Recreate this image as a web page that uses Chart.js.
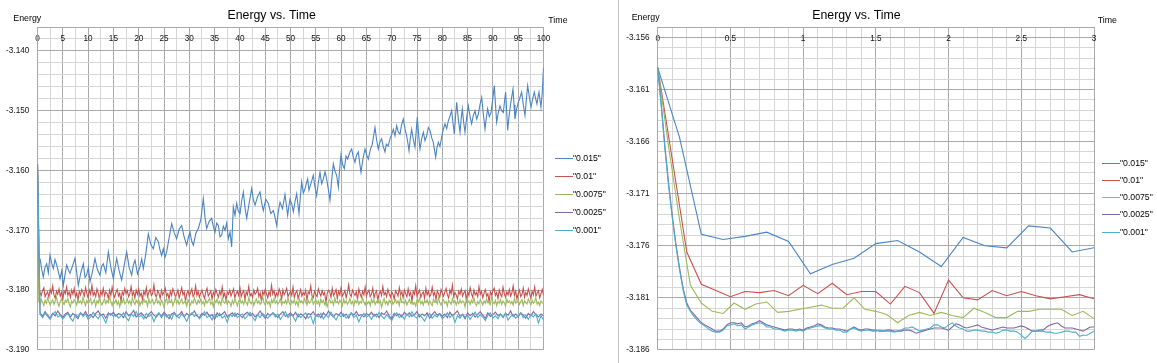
<!DOCTYPE html>
<html><head><meta charset="utf-8">
<script src="https://cdn.jsdelivr.net/npm/chart.js@4/dist/chart.umd.min.js"></script>
<style>
html,body{margin:0;padding:0;background:#fff;}
#wrap{position:relative;width:1157px;height:363px;overflow:hidden;font-family:"Liberation Sans",Arial,sans-serif;}
#boxL{position:absolute;left:0;top:0;width:617px;height:363px;}
#boxR{position:absolute;left:619px;top:0;width:538px;height:363px;}
#sep{position:absolute;left:618px;top:0;width:1px;height:363px;background:#c4c4c4;}
.lgi{position:absolute;height:12px;line-height:12px;font-size:8.7px;color:#000;white-space:nowrap;}
.lgi span{position:absolute;left:0;top:6px;width:18px;height:1px;}
.lgi b{position:absolute;left:18px;top:0;font-weight:normal;}
</style></head><body>
<div id="wrap">
<div id="boxL"><canvas id="cL" width="617" height="363"></canvas></div>
<div id="sep"></div>
<div id="boxR"><canvas id="cR" width="538" height="363"></canvas></div>
</div>
<script>
// ---------- series labels & colours ----------
const seriesLabels = ['"0.015"', '"0.01"', '"0.0075"', '"0.0025"', '"0.001"'];
const seriesColors = ['#4A84C4', '#C9504D', '#9BBB59', '#8466A8', '#4BAFCB'];

// ---------- left chart (time 0..100) ----------
const leftYMajor = [-3.190, -3.180, -3.170, -3.160, -3.150, -3.140];
const leftXMajor = [0,5,10,15,20,25,30,35,40,45,50,55,60,65,70,75,80,85,90,95,100];
// [time, energy] for "0.015"
const leftBlue = [[0,-3.1589],[0.15,-3.1656],[0.3,-3.1749],[0.49,-3.1747],[0.82,-3.1765],[1.15,-3.1778],[1.48,-3.1762],[1.81,-3.1756],[2.14,-3.1771],[2.47,-3.1742],[2.8,-3.1755],[3.13,-3.1764],[3.46,-3.1749],[3.79,-3.1758],[4.12,-3.1769],[4.45,-3.1781],[4.78,-3.1768],[5.11,-3.1792],[5.44,-3.1774],[5.76,-3.1758],[6.09,-3.1766],[6.42,-3.1772],[6.91,-3.1760],[7.41,-3.1747],[7.74,-3.1770],[8.07,-3.1792],[8.56,-3.1771],[9.06,-3.1756],[9.39,-3.1779],[9.72,-3.1775],[10.05,-3.1762],[10.38,-3.1786],[10.87,-3.1769],[11.36,-3.1747],[11.85,-3.1766],[12.35,-3.1775],[12.68,-3.1760],[13.01,-3.1756],[13.5,-3.1771],[14.0,-3.1736],[14.5,-3.1762],[14.99,-3.1781],[15.32,-3.1763],[15.65,-3.1747],[16.14,-3.1768],[16.63,-3.1783],[17.12,-3.1759],[17.62,-3.1736],[18.11,-3.1762],[18.61,-3.1775],[18.94,-3.1758],[19.27,-3.1750],[19.76,-3.1773],[20.26,-3.1761],[20.59,-3.1748],[20.92,-3.1764],[21.41,-3.1739],[21.9,-3.1706],[22.4,-3.1724],[22.89,-3.1731],[23.38,-3.1712],[23.88,-3.1719],[24.21,-3.1733],[24.54,-3.1742],[24.87,-3.1731],[25.2,-3.1745],[25.53,-3.1736],[26.02,-3.1712],[26.52,-3.1689],[27.01,-3.1704],[27.5,-3.1714],[28.0,-3.1698],[28.49,-3.1692],[28.98,-3.1711],[29.48,-3.1725],[29.81,-3.1712],[30.14,-3.1703],[30.47,-3.1718],[30.8,-3.1725],[31.3,-3.1705],[31.79,-3.1697],[32.28,-3.1682],[32.77,-3.1647],[33.1,-3.1678],[33.43,-3.1697],[33.93,-3.1685],[34.42,-3.1680],[34.75,-3.1694],[35.08,-3.1703],[35.41,-3.1688],[35.74,-3.1692],[36.07,-3.1711],[36.4,-3.1708],[36.73,-3.1693],[37.06,-3.1700],[37.39,-3.1688],[37.72,-3.1714],[38.05,-3.1703],[38.37,-3.1728],[38.7,-3.1661],[39.03,-3.1675],[39.36,-3.1655],[39.69,-3.1668],[40.02,-3.1672],[40.35,-3.1651],[40.68,-3.1636],[41.01,-3.1662],[41.34,-3.1680],[41.84,-3.1654],[42.33,-3.1630],[42.66,-3.1649],[42.99,-3.1658],[43.48,-3.1644],[43.97,-3.1636],[44.3,-3.1654],[44.63,-3.1667],[45.12,-3.1648],[45.62,-3.1655],[46.11,-3.1672],[46.61,-3.1667],[46.94,-3.1678],[47.27,-3.1692],[47.6,-3.1668],[47.93,-3.1653],[48.42,-3.1664],[48.91,-3.1640],[49.17,-3.1657],[49.44,-3.1675],[49.67,-3.1660],[49.9,-3.1648],[50.23,-3.1655],[50.56,-3.1669],[50.89,-3.1652],[51.22,-3.1639],[51.45,-3.1656],[51.68,-3.1672],[51.94,-3.1645],[52.2,-3.1619],[52.53,-3.1638],[52.86,-3.1631],[53.12,-3.1622],[53.39,-3.1614],[53.65,-3.1633],[53.92,-3.1625],[54.21,-3.1617],[54.51,-3.1608],[54.84,-3.1628],[55.17,-3.1642],[55.5,-3.1620],[55.83,-3.1603],[56.16,-3.1622],[56.49,-3.1614],[56.82,-3.1602],[57.14,-3.1614],[57.47,-3.1631],[57.8,-3.1650],[58.13,-3.1617],[58.46,-3.1589],[58.79,-3.1601],[59.12,-3.1608],[59.45,-3.1628],[59.72,-3.1597],[59.98,-3.1574],[60.31,-3.1590],[60.64,-3.1597],[60.97,-3.1576],[61.3,-3.1581],[61.7,-3.1570],[62.09,-3.1564],[62.42,-3.1578],[62.74,-3.1586],[63.07,-3.1574],[63.4,-3.1569],[63.67,-3.1587],[63.93,-3.1603],[64.33,-3.1580],[64.72,-3.1564],[65.05,-3.1574],[65.38,-3.1581],[65.78,-3.1565],[66.17,-3.1556],[66.44,-3.1541],[66.7,-3.1528],[67.02,-3.1549],[67.35,-3.1564],[67.68,-3.1552],[68.01,-3.1547],[68.34,-3.1560],[68.67,-3.1569],[68.94,-3.1556],[69.3,-3.1559],[69.66,-3.1547],[69.99,-3.1540],[70.32,-3.1531],[70.65,-3.1542],[70.98,-3.1525],[71.31,-3.1536],[71.64,-3.1539],[71.97,-3.1523],[72.3,-3.1514],[72.62,-3.1530],[72.95,-3.1542],[73.18,-3.1553],[73.42,-3.1567],[73.68,-3.1546],[73.94,-3.1531],[74.27,-3.1548],[74.6,-3.1561],[74.83,-3.1535],[75.06,-3.1511],[75.32,-3.1540],[75.59,-3.1564],[75.92,-3.1547],[76.25,-3.1536],[76.58,-3.1550],[76.91,-3.1542],[77.24,-3.1528],[77.57,-3.1533],[77.9,-3.1545],[78.22,-3.1553],[78.46,-3.1566],[78.69,-3.1578],[78.95,-3.1562],[79.21,-3.1553],[79.54,-3.1560],[79.87,-3.1544],[80.2,-3.1531],[80.53,-3.1522],[80.86,-3.1530],[81.19,-3.1517],[81.52,-3.1509],[81.85,-3.1500],[82.12,-3.1521],[82.38,-3.1539],[82.61,-3.1510],[82.84,-3.1486],[83.17,-3.1515],[83.5,-3.1536],[83.73,-3.1514],[83.96,-3.1497],[84.22,-3.1519],[84.48,-3.1536],[84.81,-3.1512],[85.14,-3.1492],[85.47,-3.1509],[85.8,-3.1522],[86.13,-3.1508],[86.46,-3.1500],[86.79,-3.1514],[87.12,-3.1506],[87.45,-3.1490],[87.78,-3.1478],[88.11,-3.1506],[88.44,-3.1531],[88.7,-3.1512],[88.96,-3.1497],[89.29,-3.1510],[89.62,-3.1503],[89.95,-3.1482],[90.28,-3.1458],[90.51,-3.1490],[90.74,-3.1519],[91.07,-3.1503],[91.4,-3.1492],[91.73,-3.1500],[92.06,-3.1503],[92.29,-3.1485],[92.52,-3.1469],[92.72,-3.1500],[92.92,-3.1533],[93.18,-3.1510],[93.44,-3.1492],[93.7,-3.1478],[93.97,-3.1464],[94.17,-3.1490],[94.36,-3.1514],[94.69,-3.1497],[95.02,-3.1486],[95.35,-3.1478],[95.68,-3.1469],[96.01,-3.1490],[96.34,-3.1508],[96.6,-3.1482],[96.87,-3.1458],[97.2,-3.1477],[97.53,-3.1494],[97.86,-3.1480],[98.19,-3.1469],[98.45,-3.1480],[98.71,-3.1489],[98.91,-3.1477],[99.11,-3.1469],[99.3,-3.1482],[99.5,-3.1494],[99.75,-3.1470],[100,-3.1428]];
const leftRedStep = 0.25, leftGreenStep = 0.25, leftPurpleStep = 0.5, leftCyanStep = 0.5; // sampling intervals
const leftRed = [-3.1589,
-3.1797,-3.1804,-3.1809,-3.1801,-3.1796,-3.1811,-3.1806,-3.1803,-3.1812,-3.1799,
-3.1805,-3.1793,-3.1808,-3.1814,-3.1802,-3.1807,-3.1798,-3.1810,-3.1804,-3.1816,
-3.1801,-3.1806,-3.1795,-3.1809,-3.1803,-3.1812,-3.1800,-3.1807,-3.1797,-3.1811,
-3.1805,-3.1818,-3.1802,-3.1808,-3.1799,-3.1804,-3.1810,-3.1796,-3.1806,-3.1813,
-3.1800,-3.1807,-3.1792,-3.1809,-3.1804,-3.1811,-3.1798,-3.1805,-3.1815,-3.1802,
-3.1808,-3.1797,-3.1810,-3.1803,-3.1806,-3.1814,-3.1800,-3.1809,-3.1795,-3.1807,
-3.1812,-3.1804,-3.1799,-3.1810,-3.1805,-3.1820,-3.1803,-3.1808,-3.1797,-3.1806,
-3.1801,-3.1811,-3.1806,-3.1794,-3.1809,-3.1803,-3.1813,-3.1800,-3.1807,-3.1798,
-3.1810,-3.1805,-3.1816,-3.1802,-3.1808,-3.1796,-3.1811,-3.1804,-3.1799,-3.1809,
-3.1806,-3.1791,-3.1807,-3.1812,-3.1801,-3.1805,-3.1814,-3.1800,-3.1808,-3.1803,
-3.1797,-3.1810,-3.1806,-3.1815,-3.1802,-3.1809,-3.1798,-3.1804,-3.1811,-3.1807,
-3.1800,-3.1813,-3.1805,-3.1796,-3.1808,-3.1803,-3.1819,-3.1806,-3.1801,-3.1810,
-3.1804,-3.1798,-3.1811,-3.1807,-3.1793,-3.1809,-3.1802,-3.1812,-3.1805,-3.1800,
-3.1808,-3.1814,-3.1803,-3.1797,-3.1810,-3.1806,-3.1801,-3.1815,-3.1804,-3.1809,
-3.1799,-3.1806,-3.1812,-3.1802,-3.1808,-3.1795,-3.1811,-3.1805,-3.1817,-3.1803,
-3.1807,-3.1800,-3.1810,-3.1804,-3.1798,-3.1813,-3.1806,-3.1802,-3.1809,-3.1796,
-3.1811,-3.1805,-3.1801,-3.1816,-3.1803,-3.1808,-3.1794,-3.1810,-3.1806,-3.1812,
-3.1800,-3.1807,-3.1804,-3.1797,-3.1811,-3.1805,-3.1818,-3.1802,-3.1808,-3.1799,
-3.1806,-3.1813,-3.1803,-3.1809,-3.1792,-3.1807,-3.1801,-3.1812,-3.1805,-3.1810,
-3.1798,-3.1804,-3.1815,-3.1800,-3.1808,-3.1803,-3.1797,-3.1811,-3.1806,-3.1802,
-3.1809,-3.1795,-3.1812,-3.1805,-3.1801,-3.1814,-3.1807,-3.1799,-3.1810,-3.1804,
-3.1808,-3.1800,-3.1817,-3.1803,-3.1806,-3.1793,-3.1809,-3.1813,-3.1802,-3.1807,
-3.1811,-3.1798,-3.1805,-3.1810,-3.1801,-3.1808,-3.1804,-3.1821,-3.1806,-3.1800,
-3.1803,-3.1812,-3.1797,-3.1809,-3.1805,-3.1799,-3.1814,-3.1802,-3.1808,-3.1796,
-3.1810,-3.1806,-3.1801,-3.1813,-3.1804,-3.1791,-3.1807,-3.1811,-3.1800,-3.1805,
-3.1809,-3.1803,-3.1816,-3.1798,-3.1806,-3.1812,-3.1802,-3.1808,-3.1795,-3.1810,
-3.1804,-3.1800,-3.1811,-3.1807,-3.1797,-3.1813,-3.1805,-3.1801,-3.1818,-3.1806,
-3.1802,-3.1809,-3.1794,-3.1808,-3.1804,-3.1811,-3.1799,-3.1806,-3.1812,-3.1803,
-3.1807,-3.1815,-3.1801,-3.1805,-3.1810,-3.1796,-3.1808,-3.1803,-3.1813,-3.1800,
-3.1806,-3.1811,-3.1798,-3.1809,-3.1804,-3.1819,-3.1802,-3.1807,-3.1793,-3.1810,
-3.1805,-3.1800,-3.1812,-3.1806,-3.1803,-3.1814,-3.1797,-3.1808,-3.1802,-3.1811,
-3.1807,-3.1795,-3.1809,-3.1804,-3.1816,-3.1801,-3.1806,-3.1812,-3.1799,-3.1805,
-3.1810,-3.1803,-3.1797,-3.1808,-3.1813,-3.1800,-3.1806,-3.1792,-3.1811,-3.1804,
-3.1808,-3.1815,-3.1802,-3.1807,-3.1798,-3.1810,-3.1805,-3.1801,-3.1817,-3.1803,
-3.1809,-3.1796,-3.1806,-3.1812,-3.1800,-3.1808,-3.1804,-3.1811,-3.1794,-3.1807,
-3.1802,-3.1813,-3.1805,-3.1799,-3.1810,-3.1806,-3.1820,-3.1803,-3.1808,-3.1801,
-3.1797,-3.1809,-3.1804,-3.1814,-3.1800,-3.1807,-3.1811,-3.1795,-3.1806,-3.1812,
-3.1803,-3.1808,-3.1799,-3.1810,-3.1805,-3.1793,-3.1809,-3.1802,-3.1815,-3.1806,
-3.1800,-3.1811,-3.1807,-3.1797,-3.1812,-3.1804,-3.1809,-3.1798,-3.1806,-3.1814,
-3.1802,-3.1808,-3.1795,-3.1810,-3.1805,-3.1801,-3.1813,-3.1806,-3.1799,-3.1809];
const leftGreen = [-3.1589,
-3.1818,-3.1823,-3.1815,-3.1821,-3.1826,-3.1817,-3.1822,-3.1813,-3.1819,-3.1825,
-3.1820,-3.1816,-3.1824,-3.1818,-3.1812,-3.1822,-3.1827,-3.1819,-3.1815,-3.1821,
-3.1824,-3.1817,-3.1820,-3.1814,-3.1823,-3.1828,-3.1818,-3.1822,-3.1816,-3.1819,
-3.1825,-3.1815,-3.1821,-3.1818,-3.1823,-3.1812,-3.1820,-3.1826,-3.1817,-3.1822,
-3.1819,-3.1814,-3.1824,-3.1820,-3.1816,-3.1827,-3.1818,-3.1822,-3.1813,-3.1821,
-3.1825,-3.1819,-3.1815,-3.1823,-3.1817,-3.1821,-3.1811,-3.1820,-3.1826,-3.1818,
-3.1822,-3.1816,-3.1824,-3.1819,-3.1828,-3.1817,-3.1821,-3.1814,-3.1823,-3.1820,
-3.1815,-3.1822,-3.1818,-3.1825,-3.1813,-3.1820,-3.1824,-3.1817,-3.1821,-3.1816,
-3.1826,-3.1819,-3.1823,-3.1815,-3.1820,-3.1818,-3.1827,-3.1814,-3.1822,-3.1819,
-3.1816,-3.1824,-3.1820,-3.1813,-3.1822,-3.1818,-3.1825,-3.1817,-3.1821,-3.1829,
-3.1819,-3.1814,-3.1823,-3.1818,-3.1821,-3.1816,-3.1826,-3.1820,-3.1812,-3.1822,
-3.1817,-3.1824,-3.1819,-3.1815,-3.1823,-3.1820,-3.1818,-3.1827,-3.1816,-3.1821,
-3.1825,-3.1818,-3.1822,-3.1813,-3.1820,-3.1824,-3.1817,-3.1821,-3.1815,-3.1823,
-3.1819,-3.1826,-3.1816,-3.1822,-3.1818,-3.1814,-3.1824,-3.1820,-3.1828,-3.1817,
-3.1821,-3.1815,-3.1823,-3.1819,-3.1825,-3.1812,-3.1820,-3.1822,-3.1816,-3.1824,
-3.1818,-3.1821,-3.1827,-3.1817,-3.1823,-3.1815,-3.1820,-3.1826,-3.1819,-3.1814,
-3.1822,-3.1818,-3.1824,-3.1816,-3.1821,-3.1825,-3.1813,-3.1820,-3.1823,-3.1817,
-3.1826,-3.1819,-3.1815,-3.1822,-3.1818,-3.1824,-3.1820,-3.1811,-3.1821,-3.1825,
-3.1817,-3.1823,-3.1819,-3.1828,-3.1816,-3.1821,-3.1814,-3.1822,-3.1818,-3.1824,
-3.1820,-3.1815,-3.1825,-3.1819,-3.1822,-3.1817,-3.1823,-3.1813,-3.1821,-3.1826,
-3.1818,-3.1822,-3.1816,-3.1824,-3.1819,-3.1827,-3.1815,-3.1821,-3.1818,-3.1823,
-3.1814,-3.1820,-3.1825,-3.1817,-3.1822,-3.1819,-3.1812,-3.1824,-3.1820,-3.1816,
-3.1823,-3.1818,-3.1826,-3.1815,-3.1821,-3.1817,-3.1824,-3.1820,-3.1828,-3.1819,
-3.1816,-3.1822,-3.1818,-3.1825,-3.1813,-3.1821,-3.1819,-3.1823,-3.1817,-3.1820,
-3.1826,-3.1815,-3.1822,-3.1818,-3.1824,-3.1820,-3.1814,-3.1823,-3.1819,-3.1827,
-3.1817,-3.1821,-3.1816,-3.1824,-3.1819,-3.1822,-3.1813,-3.1820,-3.1825,-3.1818,
-3.1823,-3.1819,-3.1826,-3.1815,-3.1821,-3.1817,-3.1824,-3.1820,-3.1816,-3.1822,
-3.1818,-3.1829,-3.1820,-3.1814,-3.1823,-3.1819,-3.1825,-3.1817,-3.1821,-3.1815,
-3.1824,-3.1820,-3.1816,-3.1822,-3.1818,-3.1826,-3.1812,-3.1821,-3.1819,-3.1823,
-3.1817,-3.1825,-3.1820,-3.1815,-3.1822,-3.1818,-3.1824,-3.1821,-3.1827,-3.1816,
-3.1820,-3.1814,-3.1823,-3.1819,-3.1825,-3.1817,-3.1821,-3.1816,-3.1824,-3.1818,
-3.1822,-3.1826,-3.1815,-3.1820,-3.1818,-3.1823,-3.1813,-3.1821,-3.1825,-3.1819,
-3.1816,-3.1822,-3.1819,-3.1827,-3.1817,-3.1820,-3.1824,-3.1814,-3.1821,-3.1818,
-3.1825,-3.1819,-3.1823,-3.1816,-3.1822,-3.1818,-3.1820,-3.1828,-3.1815,-3.1821,
-3.1818,-3.1824,-3.1817,-3.1821,-3.1813,-3.1822,-3.1826,-3.1819,-3.1823,-3.1816,
-3.1820,-3.1825,-3.1818,-3.1822,-3.1815,-3.1821,-3.1819,-3.1824,-3.1812,-3.1820,
-3.1823,-3.1817,-3.1826,-3.1819,-3.1822,-3.1816,-3.1824,-3.1818,-3.1821,-3.1827,
-3.1815,-3.1821,-3.1818,-3.1823,-3.1819,-3.1825,-3.1814,-3.1822,-3.1820,-3.1817,
-3.1824,-3.1819,-3.1816,-3.1826,-3.1818,-3.1821,-3.1823,-3.1815,-3.1820,-3.1825,
-3.1817,-3.1822,-3.1819,-3.1813,-3.1824,-3.1820,-3.1826,-3.1818,-3.1821,-3.1823];
const leftPurple = [-3.1589,
-3.1838,-3.1844,-3.1836,-3.1842,-3.1847,-3.1839,-3.1843,-3.1835,-3.1841,-3.1846,
-3.1840,-3.1837,-3.1845,-3.1839,-3.1843,-3.1848,-3.1838,-3.1842,-3.1836,-3.1844,
-3.1841,-3.1846,-3.1839,-3.1835,-3.1843,-3.1840,-3.1847,-3.1838,-3.1842,-3.1837,
-3.1844,-3.1839,-3.1841,-3.1846,-3.1836,-3.1843,-3.1840,-3.1834,-3.1845,-3.1841,
-3.1838,-3.1843,-3.1847,-3.1840,-3.1836,-3.1842,-3.1845,-3.1839,-3.1844,-3.1837,
-3.1842,-3.1848,-3.1840,-3.1838,-3.1844,-3.1841,-3.1836,-3.1845,-3.1839,-3.1843,
-3.1840,-3.1835,-3.1843,-3.1846,-3.1839,-3.1842,-3.1837,-3.1844,-3.1841,-3.1849,
-3.1838,-3.1843,-3.1840,-3.1836,-3.1845,-3.1841,-3.1838,-3.1844,-3.1839,-3.1842,
-3.1846,-3.1840,-3.1837,-3.1843,-3.1839,-3.1845,-3.1841,-3.1835,-3.1842,-3.1847,
-3.1839,-3.1843,-3.1838,-3.1841,-3.1846,-3.1840,-3.1836,-3.1844,-3.1842,-3.1838,
-3.1843,-3.1837,-3.1845,-3.1840,-3.1842,-3.1848,-3.1839,-3.1841,-3.1836,-3.1844,
-3.1840,-3.1846,-3.1838,-3.1843,-3.1835,-3.1841,-3.1845,-3.1839,-3.1842,-3.1837,
-3.1844,-3.1840,-3.1847,-3.1838,-3.1842,-3.1836,-3.1843,-3.1841,-3.1845,-3.1839,
-3.1842,-3.1837,-3.1844,-3.1840,-3.1846,-3.1838,-3.1841,-3.1835,-3.1843,-3.1848,
-3.1839,-3.1843,-3.1840,-3.1845,-3.1837,-3.1842,-3.1838,-3.1844,-3.1841,-3.1836,
-3.1845,-3.1840,-3.1843,-3.1838,-3.1847,-3.1841,-3.1836,-3.1842,-3.1839,-3.1844,
-3.1840,-3.1846,-3.1837,-3.1843,-3.1839,-3.1835,-3.1844,-3.1841,-3.1848,-3.1838,
-3.1843,-3.1839,-3.1845,-3.1840,-3.1836,-3.1842,-3.1847,-3.1838,-3.1844,-3.1841,
-3.1837,-3.1843,-3.1840,-3.1846,-3.1839,-3.1842,-3.1835,-3.1844,-3.1840,-3.1845,
-3.1838,-3.1842,-3.1847,-3.1839,-3.1843,-3.1836,-3.1841,-3.1845,-3.1840,-3.1843];
const leftCyan = [-3.1589,
-3.1840,-3.1846,-3.1838,-3.1844,-3.1849,-3.1841,-3.1836,-3.1845,-3.1842,-3.1848,
-3.1843,-3.1839,-3.1847,-3.1852,-3.1841,-3.1845,-3.1838,-3.1844,-3.1840,-3.1849,
-3.1845,-3.1837,-3.1843,-3.1848,-3.1840,-3.1846,-3.1855,-3.1842,-3.1839,-3.1844,
-3.1841,-3.1847,-3.1843,-3.1838,-3.1846,-3.1851,-3.1840,-3.1844,-3.1836,-3.1845,
-3.1842,-3.1848,-3.1839,-3.1844,-3.1841,-3.1853,-3.1843,-3.1838,-3.1846,-3.1840,
-3.1845,-3.1841,-3.1849,-3.1837,-3.1843,-3.1847,-3.1840,-3.1845,-3.1852,-3.1842,
-3.1838,-3.1844,-3.1841,-3.1848,-3.1843,-3.1836,-3.1846,-3.1842,-3.1850,-3.1840,
-3.1845,-3.1839,-3.1847,-3.1843,-3.1854,-3.1841,-3.1844,-3.1838,-3.1846,-3.1842,
-3.1840,-3.1848,-3.1843,-3.1837,-3.1845,-3.1851,-3.1841,-3.1846,-3.1839,-3.1844,
-3.1847,-3.1842,-3.1838,-3.1845,-3.1840,-3.1849,-3.1843,-3.1836,-3.1846,-3.1841,
-3.1844,-3.1852,-3.1840,-3.1846,-3.1842,-3.1838,-3.1847,-3.1843,-3.1856,-3.1841,
-3.1845,-3.1839,-3.1848,-3.1842,-3.1846,-3.1837,-3.1844,-3.1850,-3.1841,-3.1845,
-3.1840,-3.1847,-3.1843,-3.1838,-3.1846,-3.1842,-3.1853,-3.1844,-3.1839,-3.1845,
-3.1842,-3.1849,-3.1840,-3.1845,-3.1837,-3.1843,-3.1848,-3.1841,-3.1846,-3.1851,
-3.1843,-3.1838,-3.1846,-3.1842,-3.1849,-3.1840,-3.1845,-3.1836,-3.1844,-3.1847,
-3.1841,-3.1846,-3.1852,-3.1843,-3.1839,-3.1847,-3.1842,-3.1845,-3.1840,-3.1848,
-3.1844,-3.1838,-3.1846,-3.1841,-3.1854,-3.1843,-3.1847,-3.1840,-3.1845,-3.1842,
-3.1849,-3.1843,-3.1837,-3.1846,-3.1841,-3.1845,-3.1851,-3.1842,-3.1838,-3.1847,
-3.1843,-3.1848,-3.1840,-3.1845,-3.1839,-3.1850,-3.1844,-3.1841,-3.1847,-3.1843,
-3.1838,-3.1846,-3.1842,-3.1849,-3.1841,-3.1845,-3.1840,-3.1855,-3.1843,-3.1850];

// ---------- right chart (time 0..3) ----------
const rightYMajor = [-3.186, -3.181, -3.176, -3.171, -3.166, -3.161, -3.156];
const rightXMajor = [0, 0.5, 1, 1.5, 2, 2.5, 3];
const rightSteps = [0.15, 0.1, 0.075, 0.025, 0.025]; // sampling interval of each series
const rightBlue = [-3.1589,-3.1656,-3.1749,-3.1754,-3.1751,-3.1747,-3.1756,-3.1787,-3.1778,-3.1772,-3.1758,-3.1755,-3.1766,-3.1780,-3.1752,-3.1760,-3.1762,-3.1741,-3.1743,-3.1766,-3.1762];
const rightRed = [-3.1589,-3.1677,-3.1766,-3.1797,-3.1803,-3.1809,-3.1804,-3.1805,-3.1803,-3.1808,-3.1798,-3.1806,-3.1796,-3.1807,-3.1804,-3.1804,-3.1816,-3.1799,-3.1805,-3.1825,-3.1793,-3.1810,-3.1812,-3.1803,-3.1808,-3.1804,-3.1808,-3.1811,-3.1809,-3.1807,-3.1811];
const rightGreen = [-3.1589,-3.1665,-3.1735,-3.1798,-3.1815,-3.1823,-3.1825,-3.1815,-3.1821,-3.1816,-3.1814,-3.1824,-3.1823,-3.1821,-3.1819,-3.1817,-3.1820,-3.1820,-3.1810,-3.1821,-3.1823,-3.1826,-3.1834,-3.1827,-3.1824,-3.1827,-3.1824,-3.1827,-3.1829,-3.1820,-3.1824,-3.1829,-3.1829,-3.1823,-3.1823,-3.1821,-3.1821,-3.1821,-3.1827,-3.1823,-3.1830];
const rightPurple = [-3.1589,-3.1625,-3.1665,-3.1700,-3.1731,-3.1758,-3.1781,-3.1801,-3.1815,-3.1822,
-3.1826,-3.1830,-3.1834,-3.1836,-3.1838,-3.1840,-3.1842,-3.1842,-3.1840,-3.1836,
-3.1834,-3.1834,-3.1835,-3.1834,-3.1838,-3.1837,-3.1835,-3.1834,-3.1832,-3.1834,
-3.1836,-3.1837,-3.1838,-3.1839,-3.1840,-3.1841,-3.1840,-3.1840,-3.1841,-3.1840,
-3.1841,-3.1839,-3.1838,-3.1837,-3.1835,-3.1836,-3.1838,-3.1839,-3.1839,-3.1840,
-3.1840,-3.1841,-3.1842,-3.1840,-3.1838,-3.1840,-3.1841,-3.1840,-3.1840,-3.1841,
-3.1841,-3.1842,-3.1842,-3.1841,-3.1841,-3.1842,-3.1842,-3.1842,-3.1841,-3.1841,
-3.1842,-3.1844,-3.1843,-3.1842,-3.1841,-3.1840,-3.1839,-3.1839,-3.1839,-3.1840,
-3.1841,-3.1838,-3.1835,-3.1836,-3.1838,-3.1839,-3.1838,-3.1837,-3.1836,-3.1838,
-3.1839,-3.1840,-3.1841,-3.1840,-3.1839,-3.1838,-3.1839,-3.1839,-3.1839,-3.1838,
-3.1837,-3.1838,-3.1840,-3.1842,-3.1842,-3.1841,-3.1841,-3.1838,-3.1836,-3.1835,
-3.1834,-3.1837,-3.1839,-3.1839,-3.1839,-3.1840,-3.1841,-3.1842,-3.1840,-3.1838,-3.1838];
const rightCyan = [-3.1589,-3.1627,-3.1668,-3.1703,-3.1733,-3.1760,-3.1783,-3.1803,-3.1817,-3.1823,
-3.1828,-3.1832,-3.1835,-3.1837,-3.1840,-3.1842,-3.1843,-3.1843,-3.1841,-3.1837,
-3.1836,-3.1835,-3.1837,-3.1836,-3.1840,-3.1838,-3.1836,-3.1835,-3.1834,-3.1835,
-3.1838,-3.1838,-3.1840,-3.1840,-3.1841,-3.1842,-3.1841,-3.1841,-3.1842,-3.1841,
-3.1842,-3.1840,-3.1839,-3.1838,-3.1837,-3.1837,-3.1839,-3.1840,-3.1840,-3.1841,
-3.1841,-3.1843,-3.1843,-3.1840,-3.1839,-3.1841,-3.1842,-3.1841,-3.1841,-3.1842,
-3.1842,-3.1841,-3.1842,-3.1842,-3.1842,-3.1843,-3.1842,-3.1841,-3.1839,-3.1839,
-3.1838,-3.1840,-3.1842,-3.1841,-3.1840,-3.1839,-3.1836,-3.1836,-3.1838,-3.1839,
-3.1836,-3.1834,-3.1837,-3.1839,-3.1840,-3.1842,-3.1842,-3.1841,-3.1841,-3.1842,
-3.1842,-3.1843,-3.1843,-3.1844,-3.1843,-3.1841,-3.1841,-3.1842,-3.1842,-3.1843,
-3.1846,-3.1849,-3.1846,-3.1842,-3.1842,-3.1842,-3.1842,-3.1843,-3.1843,-3.1844,
-3.1844,-3.1843,-3.1842,-3.1842,-3.1843,-3.1843,-3.1847,-3.1846,-3.1846,-3.1844,-3.1842];

// ---------- helpers ----------
const FONT = '"Liberation Sans", Arial, sans-serif';
const GRID_MAJOR = '#a9a9a9', GRID_MINOR = '#d6d6d6';
const near = (a, b) => Math.abs(a - b) < 1e-7;
const isIn = (v, arr) => arr.some(m => near(m, v));
function stepTicks(min, max, step) {
  const out = [], n = Math.round((max - min) / step);
  for (let i = 0; i <= n; i++) out.push(+(min + i * step).toFixed(6));
  return out;
}
const evenPts = (vals, step) => vals.map((v, i) => ({x: +(i * step).toFixed(6), y: v}));
const pairPts = pairs => pairs.map(p => ({x: p[0], y: p[1]}));

const axisTitles = {
  id: 'axisTitles',
  afterDraw(chart, args, o) {
    const {ctx, chartArea: a} = chart;
    ctx.save();
    ctx.font = o.size + 'px ' + FONT;
    ctx.fillStyle = '#000';
    ctx.textBaseline = 'middle';
    ctx.textAlign = 'left';
    ctx.fillText(o.y, a.left + o.yDx, a.top + o.yDy);
    ctx.fillText(o.x, a.right + o.xDx, a.top + o.xDy);
    ctx.restore();
  }
};

function makeChart(canvasId, cfg) {
  const datasets = cfg.series.map((s, i) => ({
    label: seriesLabels[i],
    data: s,
    borderColor: seriesColors[i],
    backgroundColor: seriesColors[i],
    borderWidth: 1.1,
    pointRadius: 0,
    tension: 0,
    fill: false,
    order: 4 - i
  }));
  const gridColor = majors => (c) => (c.tick && isIn(c.tick.value, majors)) ? GRID_MAJOR : GRID_MINOR;
  return new Chart(document.getElementById(canvasId), {
    type: 'line',
    data: {datasets},
    plugins: [axisTitles],
    options: {
      responsive: false,
      animation: false,
      events: [],
      layout: {padding: cfg.padding},
      plugins: {
        legend: {display: false},
        tooltip: {enabled: false},
        title: {
          display: true, text: 'Energy vs. Time', color: '#000',
          font: {family: FONT, size: 12.3, weight: 'normal', lineHeight: 1.2},
          padding: {top: 8.4, bottom: 3.84}
        },
        axisTitles: cfg.titles
      },
      scales: {
        x: {
          type: 'linear', position: 'top', min: cfg.xMin, max: cfg.xMax,
          afterBuildTicks: s => { s.ticks = stepTicks(cfg.xMin, cfg.xMax, cfg.xMinor).map(v => ({value: v})); },
          afterFit: s => { s.height = 0; },
          grid: {drawTicks: false, color: gridColor(cfg.xMajor), lineWidth: 1},
          border: {display: true, color: GRID_MAJOR},
          ticks: {
            autoSkip: false, maxRotation: 0, mirror: true, padding: 7.1, color: '#111',
            font: {family: FONT, size: 8.2},
            callback: v => isIn(v, cfg.xMajor) ? String(+v.toFixed(3)) : ''
          }
        },
        y: {
          type: 'linear', position: 'left', min: cfg.yMin, max: cfg.yMax,
          afterBuildTicks: s => { s.ticks = stepTicks(cfg.yMin, cfg.yMax, cfg.yMinor).map(v => ({value: v})); },
          afterFit: s => { s.width = cfg.yWidth; },
          grid: {drawTicks: false, color: gridColor(cfg.yMajor), lineWidth: 1},
          border: {display: true, color: GRID_MAJOR},
          ticks: {
            autoSkip: false, padding: 8.2, color: '#111',
            font: {family: FONT, size: 8.2},
            callback: v => isIn(v, cfg.yMajor) ? v.toFixed(3) : ''
          }
        }
      }
    }
  });
}

// ---------- left chart ----------
makeChart('cL', {
  series: [pairPts(leftBlue), evenPts(leftRed, leftRedStep), evenPts(leftGreen, leftGreenStep),
           evenPts(leftPurple, leftPurpleStep), evenPts(leftCyan, leftCyanStep)],
  padding: {left: 0, right: 73.5, top: 0, bottom: 11},
  xMin: 0, xMax: 100, xMinor: 2.5, xMajor: leftXMajor,
  yMin: -3.190, yMax: -3.136, yMinor: 0.002, yMajor: leftYMajor,
  yWidth: 37.5,
  titles: {y: 'Energy', x: 'Time', size: 8.8, yDx: -24.2, yDy: -8.7, xDx: 4.8, xDy: -6}
});

// ---------- right chart ----------
makeChart('cR', {
  series: [rightBlue, rightRed, rightGreen, rightPurple, rightCyan].map((v, i) => evenPts(v, rightSteps[i])),
  padding: {left: 0, right: 63, top: 0, bottom: 11},
  xMin: 0, xMax: 3, xMinor: 0.1, xMajor: rightXMajor,
  yMin: -3.186, yMax: -3.155, yMinor: 0.001, yMajor: rightYMajor,
  yWidth: 38.7,
  titles: {y: 'Energy', x: 'Time', size: 8.8, yDx: -26, yDy: -9, xDx: 3.7, xDy: -6}
});

// ---------- legends (HTML text) ----------
function legend(x0, y0, dy) {
  const wrap = document.getElementById('wrap');
  seriesLabels.forEach((lab, i) => {
    const d = document.createElement('div');
    d.className = 'lgi';
    d.style.left = Math.round(x0) + 'px';
    d.style.top = Math.round(y0 + i * dy - 6) + 'px';
    const sw = document.createElement('span');
    sw.style.background = seriesColors[i];
    const tx = document.createElement('b');
    tx.textContent = lab;
    d.appendChild(sw);
    d.appendChild(tx);
    wrap.appendChild(d);
  });
}
legend(555, 158.3, 17.9);
legend(1102, 162.7, 17.25);
</script>
</body></html>
